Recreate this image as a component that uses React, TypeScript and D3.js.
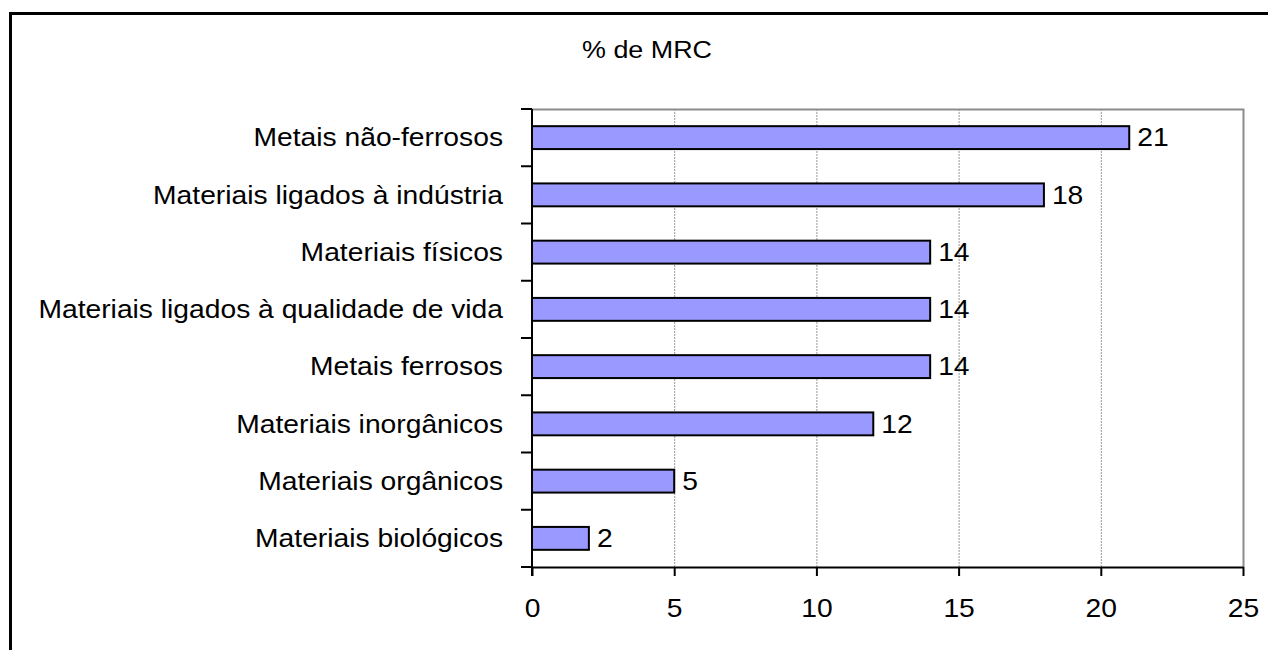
import { useRef, useEffect } from 'react';
import * as d3 from 'd3';

const categories = [
  'Metais não-ferrosos',
  'Materiais ligados à indústria',
  'Materiais físicos',
  'Materiais ligados à qualidade de vida',
  'Metais ferrosos',
  'Materiais inorgânicos',
  'Materiais orgânicos',
  'Materiais biológicos',
];
const values = [21, 18, 14, 14, 14, 12, 5, 2];
const xTicks = [0, 5, 10, 15, 20, 25];
const title = '% de MRC';

const W = 1268;
const H = 650;
const FONT = "'Liberation Sans', Arial, sans-serif";
// the source renders Arial a bit wider than the browser does
const STRETCH = 1.13;

export default function App() {
  const svgRef = useRef<SVGSVGElement | null>(null);

  useEffect(() => {
    const svg = d3.select(svgRef.current);
    svg.selectAll('*').remove();

    const left = 532;
    const right = 1243;
    const top = 109;
    const bottom = 567;

    const x = d3.scaleLinear().domain([0, 25]).range([left, right]);
    const y = d3
      .scaleBand<string>()
      .domain(categories)
      .range([top, bottom])
      .paddingInner(0.6)
      .paddingOuter(0.3);
    const step = y.step();

    // outer frame
    svg
      .append('rect')
      .attr('x', 10.5)
      .attr('y', 13.5)
      .attr('width', 1400)
      .attr('height', 1000)
      .attr('fill', 'none')
      .attr('stroke', '#000')
      .attr('stroke-width', 3);

    // title
    svg
      .append('text')
      .attr('transform', `translate(647,58) scale(1.12,1)`)
      .attr('text-anchor', 'middle')
      .style('font-family', FONT)
      .style('font-size', '24px')
      .text(title);

    // gridlines
    svg
      .append('g')
      .selectAll('line')
      .data(xTicks.slice(1, -1))
      .join('line')
      .attr('x1', d => x(d) + 0.5)
      .attr('x2', d => x(d) + 0.5)
      .attr('y1', top)
      .attr('y2', bottom)
      .attr('stroke', '#999')
      .attr('stroke-width', 1)
      .attr('stroke-dasharray', '2,1');

    // plot border top + right
    svg
      .append('path')
      .attr('d', `M${left},${top + 0.5}H${right + 0.5}V${bottom}`)
      .attr('fill', 'none')
      .attr('stroke', '#8c8c8c')
      .attr('stroke-width', 2);

    // bars
    svg
      .append('g')
      .selectAll('rect')
      .data(values)
      .join('rect')
      .attr('x', x(0))
      .attr('y', (_d, i) => y(categories[i]) as number)
      .attr('width', d => x(d) - x(0))
      .attr('height', y.bandwidth())
      .attr('fill', '#9999FF')
      .attr('stroke', '#000')
      .attr('stroke-width', 2);

    // value labels
    svg
      .append('g')
      .selectAll('text')
      .data(values)
      .join('text')
      .attr(
        'transform',
        (d, i) =>
          `translate(${x(d) + 8},${(y(categories[i]) as number) + y.bandwidth() / 2}) scale(${STRETCH},1)`,
      )
      .attr('dy', '0.35em')
      .style('font-family', FONT)
      .style('font-size', '25px')
      .text(d => d);

    // category labels
    svg
      .append('g')
      .selectAll('text')
      .data(categories)
      .join('text')
      .attr(
        'transform',
        d => `translate(${left - 29},${(y(d) as number) + y.bandwidth() / 2}) scale(${STRETCH},1)`,
      )
      .attr('dy', '0.35em')
      .attr('text-anchor', 'end')
      .style('font-family', FONT)
      .style('font-size', '25px')
      .text(d => d);

    // category axis line and ticks
    const catTicks = d3.range(categories.length + 1).map(i => top + i * step);
    svg
      .append('line')
      .attr('x1', left)
      .attr('x2', left)
      .attr('y1', top)
      .attr('y2', bottom + 9)
      .attr('stroke', '#000')
      .attr('stroke-width', 2);
    svg
      .append('g')
      .selectAll('line')
      .data(catTicks)
      .join('line')
      .attr('x1', left - 11)
      .attr('x2', left)
      .attr('y1', d => d)
      .attr('y2', d => d)
      .attr('stroke', '#000')
      .attr('stroke-width', 2);

    // value axis
    const xAxis = d3.axisBottom(x).tickValues(xTicks).tickSize(9).tickSizeOuter(0);
    const gx = svg.append('g').attr('transform', `translate(0,${bottom})`).call(xAxis);
    gx.select('.domain').attr('stroke', '#000').attr('stroke-width', 2);
    gx.selectAll('.tick line').attr('stroke', '#000').attr('stroke-width', 2);
    gx.selectAll('.tick text')
      .attr('y', 50)
      .attr('dy', 0)
      .attr('transform', `scale(${STRETCH},1)`)
      .attr('fill', '#000')
      .style('font-family', FONT)
      .style('font-size', '25px');
  }, []);

  return (
    <svg
      ref={svgRef}
      width={W}
      height={H}
      style={{ position: 'absolute', left: 0, top: 0, background: '#fff' }}
    ></svg>
  );
}
